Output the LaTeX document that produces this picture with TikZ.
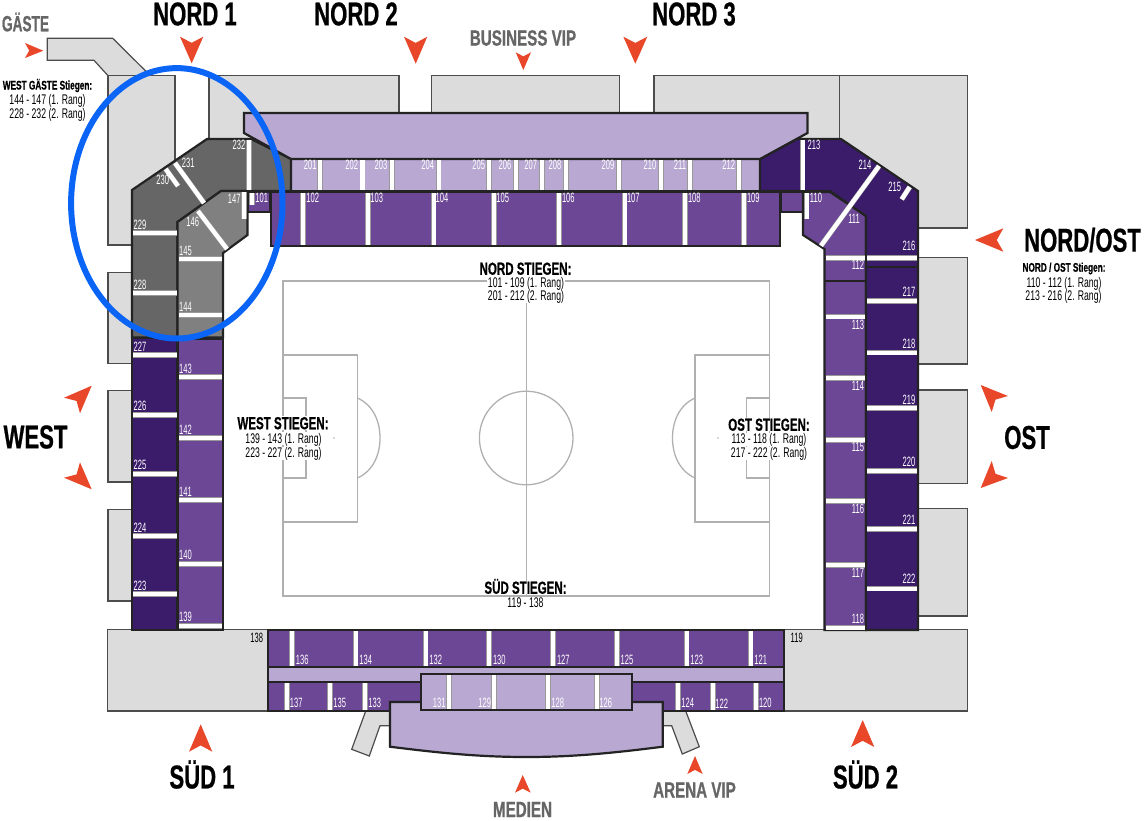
\documentclass[tikz,border=0pt]{standalone}
\usepackage{fontspec}
\setmainfont{Liberation Sans}
\newfontfamily\condseat[FakeStretch=0.56]{Liberation Sans}
\newfontfamily\condreg[FakeStretch=0.62]{Liberation Sans}
\newfontfamily\condbold[FakeStretch=0.66,FakeBold=0.6]{Liberation Sans Bold}
\newfontfamily\condbig[FakeStretch=0.67,FakeBold=0.6]{Liberation Sans Bold}
\newfontfamily\condgrey[FakeStretch=0.69,FakeBold=0.8]{Liberation Sans Bold}
\usetikzlibrary{calc}
\definecolor{rdark}{HTML}{3B1C6B}
\definecolor{rmid}{HTML}{6C4796}
\definecolor{rlight}{HTML}{B8A8D2}
\definecolor{cgrey}{HTML}{DCDCDC}
\definecolor{gdark}{HTML}{666666}
\definecolor{gmid}{HTML}{808080}
\definecolor{edge}{HTML}{232323}
\definecolor{pitchline}{HTML}{B0B0B0}
\definecolor{markred}{HTML}{E8472A}
\definecolor{ringblue}{HTML}{0A64F5}
\tikzset{
  x=1pt,y=-1pt,
  concourse/.style={fill=cgrey,draw=black!70,line width=1.2pt,line join=miter},
  block/.style={draw=edge,line width=2.2pt,line join=miter},
  pitchl/.style={draw=pitchline,line width=1.3pt},
  stairs/.style={draw=black!40,line width=.4pt,double=white,double distance=4.4pt},
  seat/.style={text=white,inner sep=0pt,font=\condseat\fontsize{13.5}{13.5}\selectfont},
  seatk/.style={text=black,inner sep=0pt,font=\condseat\fontsize{13.5}{13.5}\selectfont},
  bigl/.style={text=black,inner sep=0pt,font=\condbig\fontsize{33}{34}\selectfont},
  greyl/.style={text=gdark,inner sep=0pt,font=\condgrey\fontsize{22}{23}\selectfont},
  headl/.style={text=black,fill=white,inner xsep=1pt,inner ysep=.5pt,text height=12.5pt,text depth=0pt,font=\condbold\fontsize{17.5}{18}\selectfont},
  headm/.style={text=black,inner sep=0pt,font=\condbold\fontsize{12.5}{13}\selectfont},
  linel/.style={text=black,fill=white,inner xsep=1pt,inner ysep=1pt,text height=10pt,text depth=1pt,font=\condreg\fontsize{14}{14}\selectfont},
  linem/.style={text=black,inner xsep=0pt,inner ysep=0pt,text height=10pt,text depth=1pt,font=\condreg\fontsize{14}{14}\selectfont},
}
% tip, corner, corner
\newcommand{\dartmark}[3]{\fill[markred] (#1) -- (#2) -- ($($(#2)!.5!(#3)$)!.23!(#1)$) -- (#3) -- cycle;}
\newcommand{\lab}[3]{\node[seat] (s#3) at (#1,#2) {#3};}
\begin{document}
\begin{tikzpicture}
\useasboundingbox (0,0) rectangle (1145,820);
% concourses
\draw[concourse] (47.3,38.3) -- (112.7,38.3) -- (145.7,71) -- (145.7,76) -- (108.3,76) -- (94,60.3) -- (47.3,60.3) -- cycle;
\draw[concourse] (108,75.7) rectangle (175,245);
\draw[concourse] (209,75.7) rectangle (399,160);
\draw[concourse] (431.7,75.7) rectangle (619.5,115);
\draw[concourse] (654,75.7) rectangle (839.3,160);
\draw[concourse] (839.3,75.7) rectangle (967.3,228);
\draw[concourse] (108,272.3) rectangle (134,363.7);
\draw[concourse] (108,390.7) rectangle (134,482);
\draw[concourse] (108,509.7) rectangle (134,601);
\draw[concourse] (916,257.3) rectangle (967.3,364);
\draw[concourse] (916,390) rectangle (967.3,483.3);
\draw[concourse] (916,508.7) rectangle (967.3,616);
\draw[concourse] (107.7,629.3) rectangle (268,711);
\draw[concourse] (784,629.3) rectangle (967.3,711);
\draw[concourse] (365.7,711) -- (351.7,749.3) -- (369.3,756) -- (380,725.7) -- (392,725.7) -- (392,711) -- cycle;
\draw[concourse] (661,711) -- (661,725.7) -- (671.7,725.7) -- (682.3,754) -- (699.3,746.7) -- (685.7,711) -- cycle;
% pitch
\draw[pitchl] (283,281) rectangle (769.5,596);
\draw[pitchl] (526.5,281) -- (526.5,596);
\draw[pitchl] (526.2,438) circle (46.8);
\draw[pitchl] (283,355) rectangle (357.5,522);
\draw[pitchl] (283,398) rectangle (306,478);
\draw[pitchl] (357.5,398) .. controls (373,405) and (380,421) .. (380,438) .. controls (380,455) and (373,471) .. (357.5,478);
\draw[pitchl] (695,355) rectangle (769.5,522);
\draw[pitchl] (746.5,398) rectangle (769.5,478);
\draw[pitchl] (695,398) .. controls (679.5,405) and (672.5,421) .. (672.5,438) .. controls (672.5,455) and (679.5,471) .. (695,478);
\fill[pitchline] (334,438) circle (.9);
\fill[pitchline] (718,438) circle (.9);
% north tiers
\draw[block,fill=rlight] (291,159) rectangle (760,191);
\draw[block,fill=rmid] (271,192) rectangle (780,246);
\draw[block,fill=rmid] (248,192) rectangle (270,212);
\draw[block,fill=rmid] (781,192) rectangle (803,212);
% south tiers
\draw[block,fill=rmid] (268,630) rectangle (784,667);
\draw[block,fill=rlight] (268,667) rectangle (784,682);
\draw[block,fill=rmid] (268,682) rectangle (784,711);
% press
\draw[block,fill=rlight] (390,702) -- (662.7,702) -- (662.7,746.7) .. controls (613,753) and (573,757) .. (526.5,757) .. controls (480,757) and (440,753) .. (390,746.7) -- cycle;
\draw[block,fill=rlight] (420.7,674) rectangle (631.7,710);
% west tiers
\draw[block,fill=rdark] (132,338) rectangle (177.5,630);
\draw[block,fill=rmid] (177.5,339) rectangle (223,630);
% east tiers
\draw[block,fill=rmid] (803,192) -- (830,192) -- (866,216) -- (866,630) -- (824.5,630) -- (824.5,249) -- (803,235) -- cycle;
\draw[block,fill=rdark] (760,159) -- (797,139) -- (841,139) -- (918,191) -- (918,630) -- (866,630) -- (866,216) -- (830,191) -- (760,191) -- cycle;
\draw[block] (824.5,280.7) -- (866,280.7);
\draw[block] (866,267.3) -- (918,267.3);
% guest tiers
\draw[block,fill=gdark] (132,190) -- (207,139) -- (251,139) -- (291,159) -- (291,191) -- (221,191) -- (177.5,222) -- (177.5,337.5) -- (132,337.5) -- cycle;
\draw[block,fill=gmid] (177.5,222) -- (221,191) -- (247.5,191) -- (247.5,235) -- (223,253) -- (223,337.5) -- (177.5,337.5) -- cycle;
% vip north
\draw[block,fill=rlight] (244,113) -- (807.5,113) -- (807.5,133) -- (760,159) -- (291,159) -- (244,133) -- cycle;
% stairs north 2
\foreach \x in {320,362.5,392,438.7,489,516,542,566,619,661,690,739}{\draw[stairs] (\x,160) -- (\x,190);}
\foreach \x in {303,368,433.7,494,559,624.7,685,744}{\draw[stairs] (\x,193) -- (\x,245);}
\draw[stairs] (249,140) -- (249,190);
\draw[stairs] (244,192) -- (244,218.5);
\draw[stairs] (252,193) -- (252,205);
\draw[stairs] (802.7,140) -- (802.7,190);
\draw[stairs] (806.7,193) -- (806.7,219);
\draw[stairs] (165.7,169) -- (178,186);
\draw[stairs] (175,163) -- (204,203);
\draw[stairs] (198,211) -- (227,249);
\draw[stairs] (879,166) -- (821,245.7);
\draw[stairs] (909.7,187) -- (901.7,199.3);
% stairs west
\foreach \y in {233,293,355,415,474,536,594}{\draw[stairs] (133,\y) -- (176.5,\y);}
\foreach \y in {259,315,377,438,500,564,626}{\draw[stairs] (179,\y) -- (222,\y);}
% stairs east
\foreach \y in {258,316.7,378,440,501,565,627.7}{\draw[stairs] (825.7,\y) -- (865,\y);}
\foreach \y in {258,301,352.7,408,471,529,588.7}{\draw[stairs] (867,\y) -- (916.5,\y);}
% stairs south
\foreach \x in {292,355.7,425.7,489,553,617,686.7,750.7}{\draw[stairs] (\x,631) -- (\x,666);}
\foreach \x in {287,330,365,678,713,756}{\draw[stairs] (\x,683) -- (\x,710);}
\foreach \x in {449,494,548,597}{\draw[stairs] (\x,675) -- (\x,709);}
% seat labels north
\lab{310.3}{165}{201}\lab{351.7}{165}{202}\lab{381}{165}{203}\lab{427.7}{165}{204}
\lab{478.7}{165}{205}\lab{505}{165}{206}\lab{530.7}{165}{207}\lab{555}{165}{208}
\lab{608}{165}{209}\lab{650}{165}{210}\lab{680}{165}{211}\lab{728.7}{165}{212}
\lab{261.7}{198}{101}\lab{312.7}{198}{102}\lab{376.7}{198}{103}\lab{442}{198}{104}
\lab{502.7}{198}{105}\lab{568.3}{198}{106}\lab{633.3}{198}{107}\lab{694.3}{198}{108}
\lab{753.3}{198}{109}\lab{816}{198}{110}\lab{854}{219}{111}\lab{858}{265}{112}
\lab{858}{325}{113}\lab{858}{386}{114}\lab{858}{447}{115}\lab{858}{509}{116}
\lab{858}{573}{117}\lab{858}{619}{118}
\lab{814}{145}{213}\lab{865}{165}{214}\lab{894.7}{187}{215}\lab{909}{246}{216}
\lab{909}{292}{217}\lab{909}{344}{218}\lab{909}{400}{219}\lab{909}{462}{220}
\lab{909}{520}{221}\lab{909}{579}{222}
% west
\lab{140}{347}{227}\lab{140}{406}{226}\lab{140}{465}{225}\lab{140}{528}{224}\lab{140}{586}{223}
\lab{185.5}{369}{143}\lab{185.5}{430}{142}\lab{185.5}{492}{141}\lab{185.5}{555}{140}\lab{185.5}{617}{139}
\lab{140}{225}{229}\lab{140}{285}{228}\lab{185.5}{251}{145}\lab{185.5}{307}{144}
\lab{192.7}{221.7}{146}\lab{234.3}{199}{147}\lab{162.7}{180}{230}\lab{188.3}{163}{231}\lab{239}{145}{232}
% south
\lab{302.3}{660}{136}\lab{365.7}{660}{134}\lab{435.7}{660}{132}\lab{499.3}{660}{130}
\lab{563.3}{660}{127}\lab{627}{660}{125}\lab{696.7}{660}{123}\lab{760.7}{660}{121}
\lab{296.3}{703}{137}\lab{339.7}{703}{135}\lab{374.7}{703}{133}
\lab{687.7}{703}{124}\lab{721.7}{704}{122}\lab{765.3}{703}{120}
\lab{439.3}{703}{131}\lab{484.7}{703}{129}\lab{557.7}{703}{128}\lab{605.7}{703}{126}
\node[seatk] (s138) at (256.7,638.3) {138};
\node[seatk] (s119) at (796.7,638.3) {119};
% large labels
\node[bigl] (lnord1) at (195,14) {NORD 1};
\node[bigl] (lnord2) at (356,14) {NORD 2};
\node[bigl] (lnord3) at (694,14) {NORD 3};
\node[bigl] (lwest) at (35.5,437) {WEST};
\node[bigl] (lost) at (1027,437.5) {OST};
\node[bigl] (lnordost) at (1082.5,240) {NORD/OST};
\node[bigl] (lsued1) at (202,774.5) {SÜD 1};
\node[bigl] (lsued2) at (865.5,774.5) {SÜD 2};
\node[greyl] (lgaeste) at (25.5,22) {\scalebox{.9}[1]{GÄSTE}};
\node[greyl] (lbusiness) at (523,38) {BUSINESS VIP};
\node[greyl] (lmedien) at (522.5,809.5) {MEDIEN};
\node[greyl] (larena) at (694.5,790) {ARENA VIP};
% stair lists
\node[headm] (wg1) at (47.5,85.5) {WEST GÄSTE Stiegen:};
\node[linem] (wg2) at (47.5,100) {144 - 147 (1. Rang)};
\node[linem] (wg3) at (47.5,114) {228 - 232 (2. Rang)};
\node[headm] (no1) at (1064,268.5) {NORD / OST Stiegen:};
\node[linem] (no2) at (1064,283) {110 - 112 (1. Rang)};
\node[linem] (no3) at (1063.5,296) {213 - 216 (2. Rang)};
\node[linel] (ns2) at (526,283) {101 - 109 (1. Rang)};
\node[linel] (ns3) at (526,296) {201 - 212 (2. Rang)};
\node[headl] (ns1) at (525.5,268.5) {NORD STIEGEN:};
\node[linel] (ws2) at (283.5,438.7) {139 - 143 (1. Rang)};
\node[linel] (ws3) at (283.5,453) {223 - 227 (2. Rang)};
\node[headl] (ws1) at (283,423) {WEST STIEGEN:};
\node[linel] (os2) at (769,439) {113 - 118 (1. Rang)};
\node[linel] (os3) at (769,453) {217 - 222 (2. Rang)};
\node[headl] (os1) at (769,424.5) {OST STIEGEN:};
\node[headl] (ss1) at (525.5,587.5) {SÜD STIEGEN:};
\node[linel] (ss2) at (525.5,603) {119 - 138};
% arrows
\dartmark{43.3,50.7}{25,43}{25,58}
\dartmark{191.7,63.3}{180,36.7}{203.3,36.7}
\dartmark{415.7,63.7}{404,36.7}{427.3,36.7}
\dartmark{523.3,70}{515.7,52.3}{531,52.3}
\dartmark{635.3,63.7}{623.3,36.7}{647.3,36.7}
\dartmark{975,240}{1003.3,228.3}{1003.3,251.7}
\dartmark{980.7,385}{1008,396}{991.7,412}
\dartmark{980.7,488}{1008,478}{991.7,461}
\dartmark{91.7,385.7}{64,397.7}{80,413.3}
\dartmark{91.7,489.3}{64,477.7}{80,462.3}
\dartmark{200.7,724.3}{189,751.7}{212.3,751.7}
\dartmark{862.7,720}{851,747}{874.3,747}
\dartmark{522.7,775}{515,792.7}{530.7,792.7}
\dartmark{695,756}{687.3,774}{702.7,774}
% ring
\draw[ringblue,line width=6pt] (176.8,203.3) ellipse[x radius=105.7,y radius=135.2];
\end{tikzpicture}
\end{document}
